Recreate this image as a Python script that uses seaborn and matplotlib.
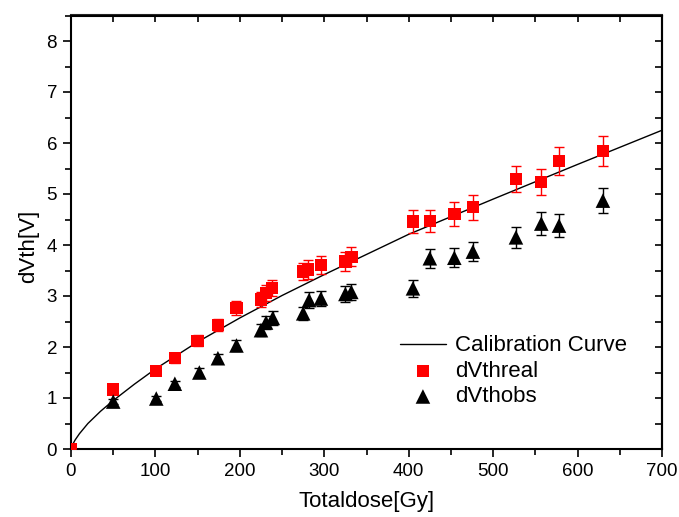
import numpy as np
import pandas as pd
import matplotlib
matplotlib.use("Agg")
import matplotlib.pyplot as plt
import seaborn as sns
from matplotlib.ticker import MultipleLocator

# ---- data ----
curve_x = [0, 1, 2, 5, 10, 20, 35, 50, 75, 100, 150, 200, 250, 300, 400, 500, 600, 700]
curve_y = [0, 0.05, 0.09, 0.18, 0.30, 0.50, 0.74, 0.95, 1.27, 1.57, 2.10, 2.57, 3.01, 3.42, 4.21, 4.90, 5.58, 6.25]

real_x = [0, 50, 101, 123, 150, 174, 196, 225, 231, 238, 275, 281, 296, 325, 332, 405, 425, 454, 476, 527, 557, 578, 630]
real_y = [0, 1.17, 1.53, 1.78, 2.12, 2.43, 2.77, 2.93, 3.06, 3.16, 3.48, 3.52, 3.61, 3.68, 3.77, 4.46, 4.47, 4.61, 4.74, 5.29, 5.24, 5.65, 5.84]
real_err = [0, 0.06, 0.08, 0.09, 0.11, 0.12, 0.14, 0.15, 0.15, 0.16, 0.17, 0.18, 0.18, 0.18, 0.19, 0.22, 0.22, 0.23, 0.24, 0.26, 0.26, 0.28, 0.29]

obs_x = [50, 101, 123, 152, 174, 196, 225, 231, 239, 275, 282, 296, 325, 332, 405, 425, 454, 476, 527, 557, 578, 630]
obs_y = [0.93, 0.99, 1.28, 1.50, 1.78, 2.03, 2.33, 2.48, 2.57, 2.66, 2.92, 2.95, 3.04, 3.08, 3.15, 3.74, 3.75, 3.87, 4.15, 4.42, 4.38, 4.87]
obs_err = [0.05, 0.05, 0.06, 0.08, 0.09, 0.10, 0.12, 0.12, 0.13, 0.13, 0.15, 0.15, 0.15, 0.15, 0.16, 0.19, 0.19, 0.19, 0.21, 0.22, 0.22, 0.24]

x_ticks = [0, 100, 200, 300, 400, 500, 600, 700]
y_ticks = [0, 1, 2, 3, 4, 5, 6, 7, 8]

sns.set_style("ticks")
plt.rcParams['font.family'] = ['Liberation Sans', 'DejaVu Sans']
plt.rcParams['text.color'] = 'black'
plt.rcParams['axes.labelcolor'] = 'black'
plt.rcParams['xtick.color'] = 'black'
plt.rcParams['ytick.color'] = 'black'

fig = plt.figure(figsize=(6.79, 5.17), dpi=100)
ax = fig.add_axes([71/679, 1 - 449/517, (662-71)/679, (449-15.5)/517])

df_curve = pd.DataFrame({"x": curve_x, "y": curve_y})
df_real = pd.DataFrame({"x": real_x, "y": real_y, "e": real_err})
df_obs = pd.DataFrame({"x": obs_x, "y": obs_y, "e": obs_err})

sns.lineplot(data=df_curve, x="x", y="y", ax=ax, color="black", linewidth=1.0,
             label="Calibration Curve", zorder=2)

ax.errorbar(df_obs["x"], df_obs["y"], yerr=df_obs["e"], fmt="none", ecolor="black",
            elinewidth=1.0, capsize=3.5, capthick=1.0, zorder=3)
ax.errorbar(df_real["x"], df_real["y"], yerr=df_real["e"], fmt="none", ecolor="#ff0000",
            elinewidth=1.0, capsize=3.5, capthick=1.0, zorder=3)

sns.scatterplot(data=df_real, x="x", y="y", ax=ax, marker="s", color="#ff0000", s=80,
                edgecolor="none", linewidth=0, label="dVthreal", zorder=4)
sns.scatterplot(data=df_obs, x="x", y="y", ax=ax, marker="^", color="black", s=110,
                edgecolor="none", linewidth=0, label="dVthobs", zorder=4)

ax.set_xlim(0, 700)
ax.set_ylim(0, 8.5)
ax.set_xticks(x_ticks)
ax.set_yticks(y_ticks)
ax.xaxis.set_minor_locator(MultipleLocator(50))
ax.yaxis.set_minor_locator(MultipleLocator(0.5))

ax.tick_params(axis="both", which="major", direction="out", length=6, width=1.2,
               labelsize=13.5, pad=4, colors="black")
ax.tick_params(axis="both", which="minor", direction="out", length=4, width=1.2)

# mirrored inward ticks on top and right
secx = ax.secondary_xaxis("top")
secx.set_xticks(x_ticks)
secx.xaxis.set_minor_locator(MultipleLocator(50))
secx.tick_params(which="both", direction="in", length=5, width=1.2, labeltop=False)
secx.set_xticklabels([])
secy = ax.secondary_yaxis("right")
secy.set_yticks(y_ticks)
secy.yaxis.set_minor_locator(MultipleLocator(0.5))
secy.tick_params(which="both", direction="in", length=5, width=1.2, labelright=False)
secy.set_yticklabels([])
for s in [secx.spines["top"], secy.spines["right"]]:
    s.set_linewidth(1.5)

for sp in ax.spines.values():
    sp.set_visible(True)
    sp.set_linewidth(1.5)
    sp.set_color("black")

ax.set_xlabel("Totaldose[Gy]", fontsize=16, labelpad=8, color="black")
ax.set_ylabel("dVth[V]", fontsize=16, color="black")
ax.yaxis.set_label_coords(-0.054, 0.468)

leg = ax.legend(loc="upper left", bbox_to_anchor=(0.556, 0.262), frameon=False,
                fontsize=16, handlelength=2.1, handletextpad=0.4, labelspacing=0.2,
                borderpad=0, borderaxespad=0)
for t in leg.get_texts():
    t.set_color("black")

fig.savefig("out.png", dpi=100)
